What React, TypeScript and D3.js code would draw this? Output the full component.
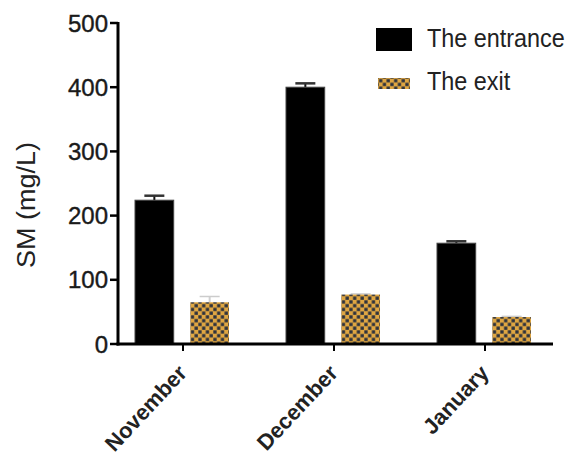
import React from 'react';
import * as d3 from 'd3';

const months = ['November', 'December', 'January'];
const series = ['The entrance', 'The exit'];
const entranceValues = [224, 400, 157];
const entranceErrors = [7, 6, 3];
const exitValues = [65, 77, 42];
const exitErrors = [9, 1, 1];
const yTicks = [0, 100, 200, 300, 400, 500];

const W = 567;
const H = 461;
const FONT = '"Liberation Sans", Arial, Helvetica, sans-serif';

export default function App() {
  const y = d3.scaleLinear().domain([0, 500]).range([344, 23]);
  const x0 = d3.scalePoint<string>().domain(months).range([183, 485]);
  const x1 = d3.scaleBand<string>().domain(series).range([-48, 46]).paddingInner(0.3);
  const bw = x1.bandwidth();
  const axisLeft = 118;
  const axisRight = 553;

  const rows = months.map((m, i) => ({
    month: m,
    values: [
      { key: series[0], v: entranceValues[i], e: entranceErrors[i] },
      { key: series[1], v: exitValues[i], e: exitErrors[i] },
    ],
  }));

  return (
    <svg width={W} height={H} style={{ position: 'absolute', left: 0, top: 0, background: '#fff' }}>
      <defs>
        <pattern id="check" width={7.5} height={7.5} patternUnits="userSpaceOnUse">
          <rect width={7.5} height={7.5} fill="#dfa642" />
          <rect x={0.3} y={0.3} width={3.3} height={3.3} fill="#2c313d" />
          <rect x={4.05} y={4.05} width={3.3} height={3.3} fill="#2c313d" />
        </pattern>
      </defs>

      {/* bars */}
      {rows.map(r => (
        <g key={r.month} transform={`translate(${x0(r.month)},0)`}>
          {r.values.map(d => {
            const bx = x1(d.key)!;
            const isExit = d.key === series[1];
            const cx = bx + bw / 2;
            return (
              <g key={d.key}>
                <line x1={cx} x2={cx} y1={y(d.v)} y2={y(d.v + d.e)}
                  stroke={isExit ? '#d0d0d0' : '#111'} strokeWidth={2} />
                <line x1={cx - 10} x2={cx + 10} y1={y(d.v + d.e)} y2={y(d.v + d.e)}
                  stroke={isExit ? '#cccccc' : '#333'} strokeWidth={isExit ? 1.5 : 2.5} />
                <rect x={bx} y={y(d.v)} width={bw} height={y(0) - y(d.v)}
                  fill={isExit ? 'url(#check)' : '#000'}
                  stroke={isExit ? 'none' : '#444'} strokeWidth={1} />
              </g>
            );
          })}
        </g>
      ))}

      {/* y axis */}
      <line x1={axisLeft} x2={axisLeft} y1={y(500) - 1} y2={y(0) + 1.5} stroke="#000" strokeWidth={3} />
      {yTicks.map(t => (
        <g key={t} transform={`translate(0,${y(t)})`}>
          <line x1={axisLeft - 8} x2={axisLeft} stroke="#000" strokeWidth={2.5} />
          <text x={axisLeft - 10} dy="0.36em" textAnchor="end" fontFamily={FONT}
            fontSize={24} fill="#1a1a1a" stroke="#1a1a1a" strokeWidth={0.4}>{t}</text>
        </g>
      ))}
      <text transform={`translate(35,205) rotate(-90)`} textAnchor="middle"
        fontFamily={FONT} fontSize={26} fill="#222" textLength={126}
        lengthAdjust="spacingAndGlyphs">SM (mg/L)</text>

      {/* x axis */}
      <line x1={axisLeft - 1.5} x2={axisRight} y1={y(0)} y2={y(0)} stroke="#000" strokeWidth={3} />
      {months.map(m => (
        <g key={m} transform={`translate(${x0(m)},${y(0)})`}>
          <line y1={0} y2={7} stroke="#000" strokeWidth={2} />
          <text transform="translate(5,30) rotate(-47)" textAnchor="end" fontFamily={FONT}
            fontSize={22} fontWeight="bold" fill="#222">{m}</text>
        </g>
      ))}

      {/* legend */}
      <rect x={376} y={28} width={36} height={23} fill="#000" />
      <text transform="translate(427,47) scale(0.9,1)" fontFamily={FONT} fontSize={26}
        fill="#222">{series[0]}</text>
      <rect x={378} y={78} width={32} height={11} fill="url(#check)" />
      <text transform="translate(427,90) scale(0.9,1)" fontFamily={FONT} fontSize={26}
        fill="#222">{series[1]}</text>
    </svg>
  );
}
